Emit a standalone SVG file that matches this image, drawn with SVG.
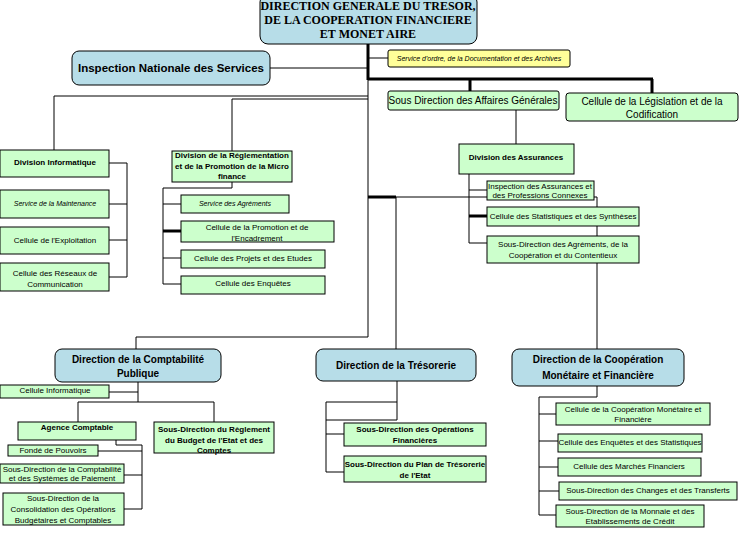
<svg xmlns="http://www.w3.org/2000/svg" width="743" height="538" viewBox="0 0 743 538">
<style>
.g{fill:#ccffcc;stroke:#000;stroke-width:1}
.b{fill:#b7dde8;stroke:#000;stroke-width:1}
.y{fill:#ffff99;stroke:#000;stroke-width:1}
text{font-family:"Liberation Sans",Arial,sans-serif;font-size:8px;text-anchor:middle;fill:#000}
.t{font-size:11.5px;font-weight:bold}
.m{font-size:10px}
.s{font-weight:bold}
.i{font-style:italic;font-size:7px}
.top{font-family:"Liberation Serif",serif;font-size:12px;font-weight:bold}
#c path{fill:none;stroke:#000;stroke-width:1}
#c .k{stroke-width:3}
</style>
<rect width="743" height="538" fill="#fff"/>
<g id="c">
<path d="M368 44V337H136V349M270 68H368M368 58H388"/>
<path class="k" d="M368 44V80M368 79H653M470 79V91M652 79V93"/>
<path d="M516 110V144M469 174V243H487M469 190H487M469 216H487M597 197V349M368 197H597"/>
<path class="k" d="M469 216H487M368 197H396"/>
<path d="M396 197V349M54 96H368M54 96V150M232 99H368M232 99V151"/>
<path d="M109 163H127V277H109M109 204H127M109 240H127"/>
<path d="M232 182V188H163V284H181M163 204H181M163 258H181"/>
<path class="k" d="M163 231H181"/>
<path d="M138 382V402M109 392H138M78 402H214M78 402V422M214 402V422M116 440V445H142V509H124M98 451H142M124 475H142"/>
<path d="M397 381V420M326 402H397M326 420H397M326 402V472H344M326 434H344"/>
<path d="M597 386V397H539V515H556M539 414H556M539 441H558M539 467H558M539 491H559"/>
</g>
<g id="n-top"><rect class="b" x="260" y="-6" width="217" height="50" rx="8"/><text class="top" x="368" y="10">DIRECTION GENERALE DU TRESOR,</text><text class="top" x="368" y="24">DE LA COOPERATION FINANCIERE</text><text class="top" x="368" y="38">ET MONET AIRE</text></g>
<g id="n-ins"><rect class="b" x="72" y="51" width="198" height="34" rx="7"/><text class="t" x="171" y="72">Inspection Nationale des Services</text></g>
<g id="n-ord"><rect class="y" x="388" y="50" width="182" height="17" rx="2"/><text class="i" x="479" y="61">Service d'ordre, de la Documentation et des Archives</text></g>
<g id="n-sdag"><rect class="g" x="388" y="91" width="171" height="19" rx="2"/><text class="m" x="473" y="104">Sous Direction des Affaires Générales</text></g>
<g id="n-leg"><rect class="g" x="566" y="93" width="172" height="28" rx="3"/><text class="m" x="652" y="105">Cellule de la Législation et de la</text><text class="m" x="652" y="118">Codification</text></g>
<g id="n-das"><rect class="g" x="459" y="144" width="115" height="30"/><text class="s" x="516" y="160">Division des Assurances</text></g>
<g id="n-ia"><rect class="g" x="487" y="181" width="107" height="19"/><text x="540" y="189">Inspection des Assurances et</text><text x="540" y="198">des Professions Connexes</text></g>
<g id="n-cs"><rect class="g" x="487" y="207" width="152" height="19"/><text x="563" y="219">Cellule des Statistiques et des Synthèses</text></g>
<g id="n-sda"><rect class="g" x="487" y="236" width="152" height="27"/><text x="563" y="247">Sous-Direction des Agréments, de la</text><text x="563" y="258">Coopération et du Contentieux</text></g>
<g id="n-di"><rect class="g" x="0" y="150" width="109" height="27"/><text class="s" x="55" y="165">Division Informatique</text></g>
<g id="n-sm"><rect class="g" x="0" y="190" width="109" height="28"/><text class="i" x="55" y="206">Service de la Maintenance</text></g>
<g id="n-ce"><rect class="g" x="0" y="227" width="109" height="27"/><text x="55" y="243">Cellule de l'Exploitation</text></g>
<g id="n-cr"><rect class="g" x="0" y="263" width="109" height="28"/><text x="55" y="276">Cellule des Réseaux de</text><text x="55" y="287">Communication</text></g>
<g id="n-dr"><rect class="g" x="172" y="151" width="120" height="31"/><text class="s" x="232" y="158">Division de la Réglementation</text><text class="s" x="232" y="169">et de la Promotion de la Micro</text><text class="s" x="232" y="179">finance</text></g>
<g id="n-sa"><rect class="g" x="181" y="195" width="108" height="18"/><text class="i" x="235" y="206">Service des Agréments</text></g>
<g id="n-cp"><rect class="g" x="181" y="221" width="153" height="21"/><text x="257" y="230">Cellule de la Promotion et de</text><text x="257" y="241">l'Encadrement</text></g>
<g id="n-cpe"><rect class="g" x="181" y="250" width="144" height="18"/><text x="253" y="261">Cellule des Projets et des Etudes</text></g>
<g id="n-cen"><rect class="g" x="181" y="276" width="144" height="18"/><text x="253" y="286">Cellule des Enquêtes</text></g>
<g id="n-dcp"><rect class="b" x="55" y="349" width="166" height="33" rx="7"/><text class="m s" x="138" y="363">Direction de la Comptabilité</text><text class="m s" x="138" y="377">Publique</text></g>
<g id="n-ci"><rect class="g" x="0" y="385" width="109" height="13"/><text x="55" y="393">Cellule Informatique</text></g>
<g id="n-ac"><rect class="g" x="18" y="422" width="118" height="18"/><text class="s" x="77" y="430">Agence Comptable</text></g>
<g id="n-srb"><rect class="g" x="154" y="422" width="120" height="31"/><text class="s" x="214" y="432">Sous-Direction du Règlement</text><text class="s" x="214" y="443">du Budget de l'Etat et des</text><text class="s" x="214" y="453">Comptes</text></g>
<g id="n-fp"><rect class="g" x="8" y="445" width="90" height="11"/><text x="53" y="453">Fondé de Pouvoirs</text></g>
<g id="n-sdc"><rect class="g" x="0" y="464" width="124" height="19"/><text x="62" y="472">Sous-Direction de la Comptabilité</text><text x="62" y="481">et des Systèmes de Paiement</text></g>
<g id="n-sco"><rect class="g" x="3" y="493" width="121" height="32"/><text x="63" y="501">Sous-Direction de la</text><text x="63" y="512">Consolidation  des Opérations</text><text x="63" y="523">Budgétaires et Comptables</text></g>
<g id="n-dt"><rect class="b" x="316" y="349" width="160" height="32" rx="7"/><text class="m s" x="396" y="369">Direction de la Trésorerie</text></g>
<g id="n-sof"><rect class="g" x="344" y="423" width="142" height="23"/><text class="s" x="415" y="432">Sous-Direction des Opérations</text><text class="s" x="415" y="443">Financières</text></g>
<g id="n-spt"><rect class="g" x="344" y="456" width="142" height="26"/><text class="s" x="415" y="467">Sous-Direction du Plan de Trésorerie</text><text class="s" x="415" y="478">de l'Etat</text></g>
<g id="n-dcm"><rect class="b" x="512" y="349" width="172" height="37" rx="7"/><text class="m s" x="598" y="363">Direction de la Coopération</text><text class="m s" x="598" y="379">Monétaire et Financière</text></g>
<g id="n-ccm"><rect class="g" x="556" y="403" width="154" height="22"/><text x="633" y="412">Cellule de la Coopération Monétaire et</text><text x="633" y="422">Financière</text></g>
<g id="n-ces"><rect class="g" x="558" y="434" width="144" height="18"/><text x="630" y="445">Cellule des Enquêtes et des Statistiques</text></g>
<g id="n-cmf"><rect class="g" x="558" y="458" width="143" height="18"/><text x="629" y="469">Cellule des Marchés Financiers</text></g>
<g id="n-sct"><rect class="g" x="559" y="482" width="178" height="18"/><text x="648" y="493">Sous-Direction des Changes et des Transferts</text></g>
<g id="n-smc"><rect class="g" x="556" y="505" width="148" height="22"/><text x="630" y="514">Sous-Direction de la Monnaie et des</text><text x="630" y="524">Etablissements de Crédit</text></g>
</svg>
